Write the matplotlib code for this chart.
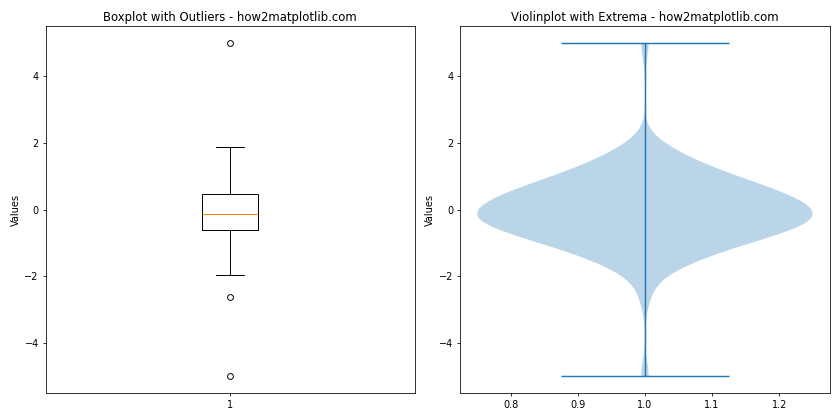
import numpy as np
import matplotlib
matplotlib.use("Agg")
import matplotlib.pyplot as plt

lower_values = [
    -2.62, -1.98, -1.80, -1.67, -1.57, -1.48, -1.40, -1.34, -1.28, -1.22,
    -1.17, -1.12, -1.08, -1.04, -1.00, -0.96, -0.92, -0.89, -0.85, -0.82,
    -0.79, -0.76, -0.72, -0.69, -0.63, -0.61, -0.59, -0.57, -0.55, -0.53,
    -0.51, -0.48, -0.46, -0.43, -0.41, -0.38, -0.36, -0.34, -0.31, -0.29,
    -0.27, -0.25, -0.23, -0.21, -0.19, -0.18, -0.17, -0.16, -0.15, -0.14,
]
upper_values = [
    -0.12, -0.10, -0.07, -0.04, -0.01, 0.02, 0.06, 0.10, 0.14, 0.165,
    0.19, 0.21, 0.235, 0.26, 0.28, 0.31, 0.33, 0.355, 0.38, 0.40,
    0.42, 0.435, 0.445, 0.455, 0.465, 0.48, 0.58, 0.62, 0.655, 0.69,
    0.72, 0.75, 0.79, 0.82, 0.86, 0.90, 0.94, 0.98, 1.02, 1.07,
    1.12, 1.18, 1.24, 1.30, 1.38, 1.47, 1.57, 1.70, 1.80, 1.87,
]
extreme_values = [5.0, -5.0]
data = np.array(lower_values + upper_values + extreme_values)

fig, (ax1, ax2) = plt.subplots(1, 2, figsize=(12, 6), dpi=70)

ax1.boxplot(data)
ax1.set_title('Boxplot with Outliers - how2matplotlib.com')
ax1.set_ylabel('Values')

ax2.violinplot(data, showextrema=True)
ax2.set_title('Violinplot with Extrema - how2matplotlib.com')
ax2.set_ylabel('Values')

plt.tight_layout()
plt.savefig('out.png')
